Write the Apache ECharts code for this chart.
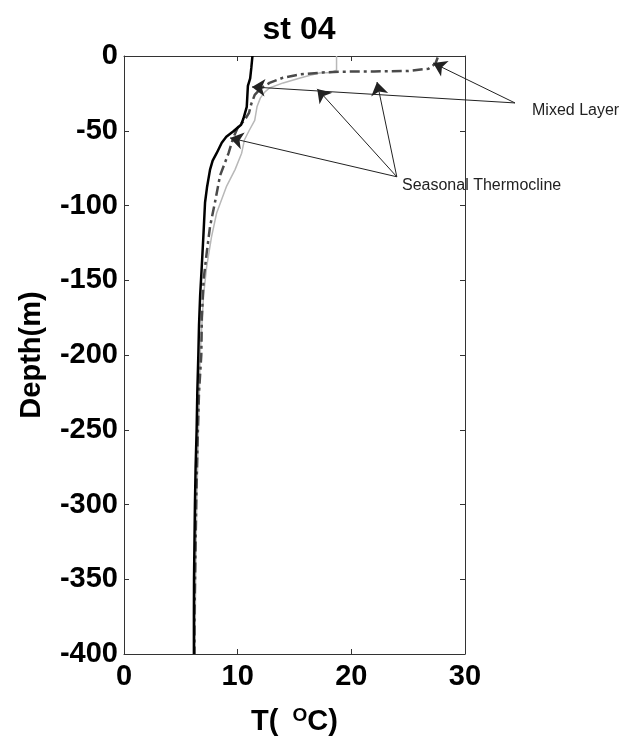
<!DOCTYPE html>
<html>
<head>
<meta charset="utf-8">
<script src="https://cdn.jsdelivr.net/npm/echarts@6/dist/echarts.min.js"></script>
<style>html,body{margin:0;padding:0;background:#fff}#c{width:624px;height:741px}</style>
</head>
<body>
<div id="c"></div>
<script>
// Temperature (°C) vs depth (m) profiles
const blackProfile = [[11.3,0],[11.2,-8],[11.1,-15],[10.9,-20],[10.85,-27],[10.8,-34],[10.5,-42],[10.3,-46],[9.6,-50.5],[9.0,-54],[8.6,-58],[8.15,-65],[7.8,-70],[7.57,-76],[7.3,-88],[7.13,-98],[6.98,-121],[6.84,-141],[6.7,-160],[6.6,-180],[6.54,-200],[6.45,-225],[6.39,-250],[6.3,-275],[6.24,-300],[6.2,-325],[6.16,-350],[6.15,-375],[6.15,-400]];
const dashDotProfile = [[27.6,-1],[27.4,-5],[26.8,-8.5],[25,-10],[22,-10.3],[19,-10.5],[17.5,-11],[15.5,-12.3],[14,-14.5],[12.8,-18],[12.0,-22],[11.5,-26],[11.2,-32],[11.0,-38],[10.6,-43],[10.0,-48],[9.6,-55],[9.2,-65],[8.45,-80],[8.0,-98],[7.57,-114],[7.27,-132],[7.0,-150],[6.85,-175],[6.8,-200],[6.6,-225],[6.5,-250],[6.42,-275],[6.35,-300],[6.3,-325],[6.25,-350],[6.2,-375],[6.2,-400]];
const grayProfile = [[18.7,0],[18.7,-9.5],[18.2,-11],[17.2,-11.4],[16.3,-13],[15.5,-14.7],[14,-18],[12.8,-21.4],[12.4,-24],[12.0,-28],[11.7,-34],[11.5,-43],[11.0,-50],[10.6,-56],[10.35,-65],[9.77,-76],[9.03,-87],[8.15,-105],[7.7,-121],[7.27,-141],[7.0,-160],[6.85,-180],[6.7,-200],[6.55,-250],[6.4,-300],[6.3,-350],[6.25,-400]];

// Annotation arrows: [start, tip] in data coordinates
const mixedLayerArrows = [[[34.4,-31.4],[27.2,-4.7]],[[34.4,-31.4],[11.26,-20.7]]];
const thermoclineArrows = [[[24.0,-80.8],[17.0,-22.0]],[[24.0,-80.8],[22.26,-17.4]],[[24.0,-80.8],[9.33,-54.8]]];

const titleText = 'st 04';
const yName = 'Depth(m)';
const annotationMixed = 'Mixed Layer';
const annotationThermo = 'Seasonal Thermocline';

const chart = echarts.init(document.getElementById('c'), null, {renderer:'canvas'});
const axisCol = '#333';
const labelFont = {fontFamily:'Liberation Sans, Arial, sans-serif', fontWeight:'bold', fontSize:29, color:'#000'};

chart.setOption({
  animation:false,
  backgroundColor:'#fff',
  title:{text:titleText, left:294, top:9, textAlign:'center',
    textStyle:{fontFamily:'Liberation Sans, Arial, sans-serif', fontWeight:'bold', fontSize:32, color:'#000'}},
  grid:{left:124, right:159, top:56, bottom:86, containLabel:false},
  xAxis:[{
    type:'value', min:0, max:30, interval:10, position:'bottom',
    axisLine:{show:true, onZero:false, lineStyle:{color:axisCol, width:1}},
    axisTick:{show:true, inside:true, length:5, lineStyle:{color:axisCol}},
    splitLine:{show:false},
    axisLabel:Object.assign({margin:8}, labelFont),
    name:'T( {sup|O}C)', nameLocation:'middle', nameGap:52,
    nameTextStyle:{fontFamily:'Liberation Sans, Arial, sans-serif', fontWeight:'bold', fontSize:29, color:'#000',
      rich:{sup:{fontFamily:'Liberation Sans, Arial, sans-serif', fontWeight:'bold', fontSize:19, color:'#000', verticalAlign:'top', padding:[0,0,12,6]}}}
  },{
    type:'value', min:0, max:30, interval:10, position:'top',
    axisLine:{show:true, onZero:false, lineStyle:{color:axisCol, width:1}},
    axisTick:{show:true, inside:true, length:5, lineStyle:{color:axisCol}},
    axisLabel:{show:false}, splitLine:{show:false}
  }],
  yAxis:[{
    type:'value', min:-400, max:0, interval:50, position:'left',
    axisLine:{show:true, onZero:false, lineStyle:{color:axisCol, width:1}},
    axisTick:{show:true, inside:true, length:5, lineStyle:{color:axisCol}},
    splitLine:{show:false},
    axisLabel:Object.assign({margin:6}, labelFont),
    name:yName, nameLocation:'middle', nameGap:78, nameRotate:90,
    nameTextStyle:{fontFamily:'Liberation Sans, Arial, sans-serif', fontWeight:'bold', fontSize:29, color:'#000'}
  },{
    type:'value', min:-400, max:0, interval:50, position:'right',
    axisLine:{show:true, onZero:false, lineStyle:{color:axisCol, width:1}},
    axisTick:{show:true, inside:true, length:5, lineStyle:{color:axisCol}},
    axisLabel:{show:false}, splitLine:{show:false}
  }],
  series:[
    {type:'line', data:grayProfile, showSymbol:false, symbol:'none', lineStyle:{color:'#b8b8b8', width:1.5}, z:2},
    {type:'line', data:dashDotProfile, showSymbol:false, symbol:'none', lineStyle:{color:'#4a4a4a', width:2.5, type:[10,4,3,4]}, z:3},
    {type:'line', data:blackProfile, showSymbol:false, symbol:'none', lineStyle:{color:'#000', width:2.5}, z:4},
    {type:'lines', coordinateSystem:'cartesian2d', clip:false, z:5,
      symbol:['none','arrow'], symbolSize:[0,13],
      lineStyle:{color:'#222', width:1, opacity:1, curveness:0},
      data:mixedLayerArrows.concat(thermoclineArrows).map(c => ({coords:c}))}
  ],
  graphic:[
    {type:'text', left:532, top:103, style:{text:annotationMixed, fontFamily:'Liberation Sans, Arial, sans-serif', fontSize:16, fill:'#222'}},
    {type:'text', left:402, top:178, style:{text:annotationThermo, fontFamily:'Liberation Sans, Arial, sans-serif', fontSize:16, fill:'#222'}}
  ]
});
</script>
</body>
</html>
